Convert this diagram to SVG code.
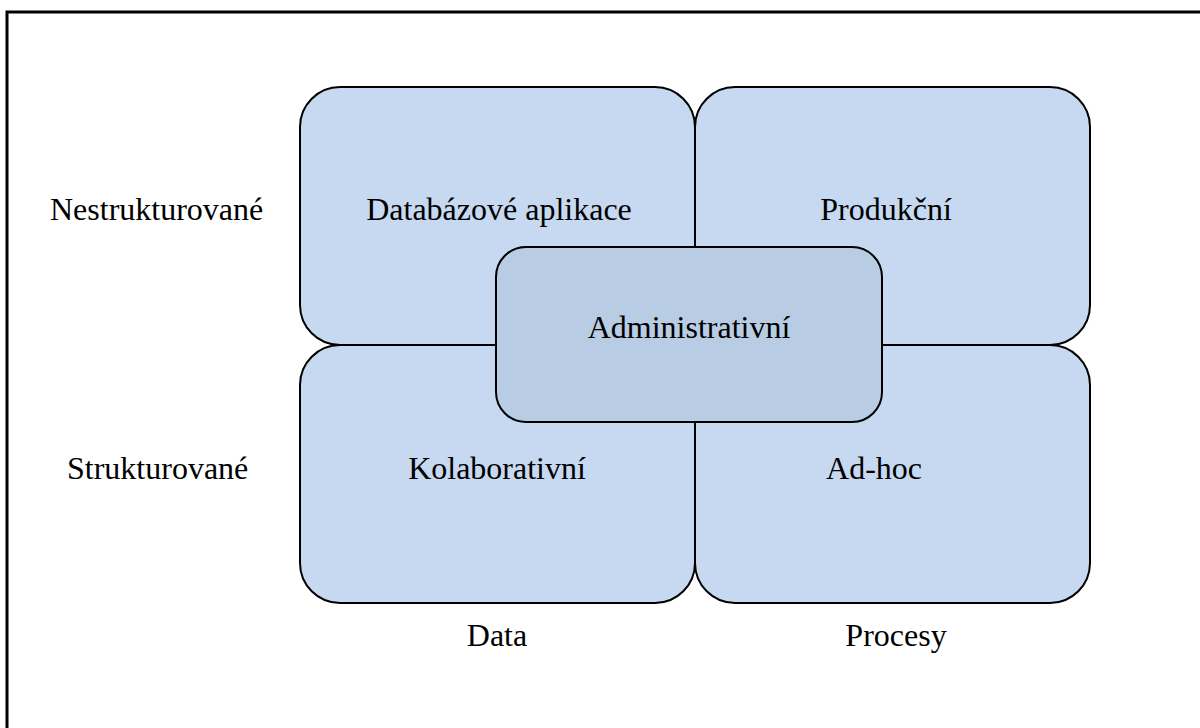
<svg xmlns="http://www.w3.org/2000/svg" width="1200" height="728" viewBox="0 0 1200 728">
<style>
.q{fill:#c6d9f0;stroke:#000;stroke-width:2}
.c{fill:#b8cce4;stroke:#000;stroke-width:2}
text{font-family:"Liberation Serif","Times New Roman",serif;font-size:32px;fill:#000}
.m{text-anchor:middle}
</style>
<rect x="0" y="0" width="1200" height="728" fill="#fff"/>
<rect x="7" y="12" width="1210" height="740" fill="none" stroke="#000" stroke-width="3"/>
<g id="node-databazove">
<rect class="q" x="300" y="87" width="395" height="258" rx="40" ry="40"/>
<text class="m" x="499" y="220">Databázové aplikace</text>
</g>
<g id="node-produkcni">
<rect class="q" x="695" y="87" width="395" height="258" rx="40" ry="40"/>
<text class="m" x="886" y="220">Produkční</text>
</g>
<g id="node-kolaborativni">
<rect class="q" x="300" y="345" width="395" height="258" rx="40" ry="40"/>
<text class="m" x="497" y="479">Kolaborativní</text>
</g>
<g id="node-adhoc">
<rect class="q" x="695" y="345" width="395" height="258" rx="40" ry="40"/>
<text class="m" x="874" y="479">Ad-hoc</text>
</g>
<g id="node-administrativni">
<rect class="c" x="496" y="247" width="386" height="175" rx="30" ry="30"/>
<text class="m" x="689" y="338">Administrativní</text>
</g>
<g id="labels">
<text x="50" y="220">Nestrukturované</text>
<text x="67" y="479">Strukturované</text>
<text class="m" x="497" y="646">Data</text>
<text class="m" x="896" y="646">Procesy</text>
</g>
<g id="connectors"></g>
</svg>
